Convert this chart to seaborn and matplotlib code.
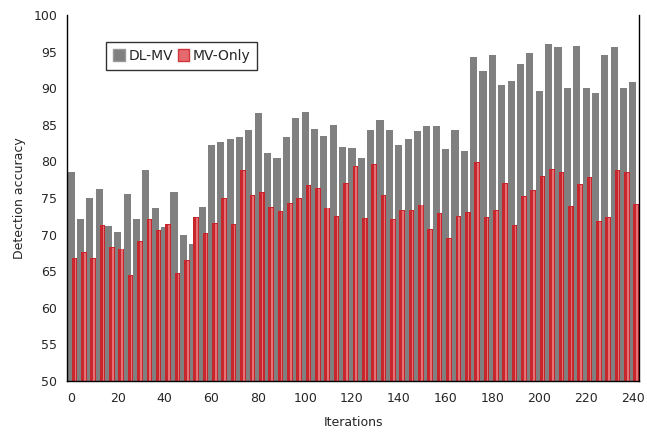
import numpy as np
import pandas as pd
import seaborn as sns
import matplotlib.pyplot as plt
from matplotlib.patches import Patch

# iterations 0, 4, ..., 240
iterations = list(range(0, 241, 4))

dl_mv = [78.6, 72.1, 75.0, 76.2, 71.2, 70.4, 75.5, 72.1, 78.8, 73.7,
         71.1, 75.8, 70.0, 68.7, 73.8, 82.3, 82.7, 83.0, 83.3, 84.3,
         86.6, 81.1, 80.5, 83.4, 85.9, 86.7, 84.4, 83.5, 85.0, 82.0,
         81.8, 80.4, 84.3, 85.7, 84.3, 82.3, 83.1, 84.1, 84.9, 84.8,
         81.7, 84.3, 81.4, 94.2, 92.3, 94.5, 90.4, 91.0, 93.3, 94.8,
         89.6, 96.1, 95.6, 90.0, 95.8, 90.0, 89.4, 94.5, 95.6, 90.0,
         90.8]

mv_only = [66.8, 67.6, 66.8, 71.3, 68.3, 68.1, 64.5, 69.1, 72.1, 70.6,
           71.4, 64.8, 66.5, 72.4, 70.2, 71.6, 75.0, 71.5, 78.8, 75.4,
           75.8, 73.8, 73.2, 74.3, 75.0, 76.8, 76.4, 73.7, 72.5, 77.1,
           79.4, 72.3, 79.6, 75.4, 72.1, 73.3, 73.3, 74.1, 70.8, 72.9,
           69.5, 72.5, 73.1, 79.9, 72.4, 73.4, 77.0, 71.3, 75.3, 76.1,
           78.0, 79.0, 78.6, 73.9, 76.9, 77.9, 71.9, 72.4, 78.8, 78.5,
           74.2]

series_names = ['DL-MV', 'MV-Only']
gray = '#808080'
red = '#c8262d'
pink = '#e47276'

df = pd.DataFrame({'it': iterations, 'dl': dl_mv, 'mv': mv_only})

sns.set_style('white')
plt.rcParams['font.family'] = ['DejaVu Sans']
plt.rcParams['font.size'] = 9

fig = plt.figure(figsize=(6.47, 4.34), dpi=100)
ax = fig.add_axes([0.1036, 0.1221, 0.8840, 0.8433])

# gray bars behind, red bars shifted a bit to the right in front
sns.barplot(x=df['it'], y=df['dl'], native_scale=True, width=0.76,
            color=gray, saturation=1, errorbar=None, ax=ax, linewidth=0)
sns.barplot(x=df['it'] + 1.45, y=df['mv'], native_scale=True, width=0.6,
            color=red, saturation=1, errorbar=None, ax=ax, linewidth=0)
# glossy stripe on the red bars
sns.barplot(x=df['it'] + 1.85, y=df['mv'] - 0.12, native_scale=True, width=0.17,
            color=pink, saturation=1, errorbar=None, ax=ax, linewidth=0)

ax.set_xlim(-1.7, 242.6)
ax.set_ylim(50, 100)
ax.set_xticks(range(0, 241, 20))
ax.set_yticks(range(50, 101, 5))
ax.tick_params(length=0, labelsize=9)
ax.tick_params(axis='y', pad=7)
ax.tick_params(axis='x', pad=8)
ax.set_xlabel('Iterations', fontsize=9, labelpad=8)
ax.set_ylabel('Detection accuracy', fontsize=9, labelpad=5)

for side in ['left', 'bottom', 'right']:
    ax.spines[side].set_visible(True)
    ax.spines[side].set_color('black')
    ax.spines[side].set_linewidth(1)
ax.spines['top'].set_visible(False)

handles = [Patch(facecolor=gray, edgecolor='#999999'),
           Patch(facecolor='#e46a6e', edgecolor='#d0363c')]
leg = ax.legend(handles, series_names, loc='upper left', ncol=2,
                bbox_to_anchor=(0.069, 0.926), borderaxespad=0,
                frameon=True, fancybox=False,
                handlelength=0.8, handleheight=0.9, handletextpad=0.3,
                columnspacing=0.3, borderpad=0.5, fontsize=10)
leg.get_frame().set_edgecolor('black')
leg.get_frame().set_linewidth(1)

fig.savefig('out.png', dpi=100)
